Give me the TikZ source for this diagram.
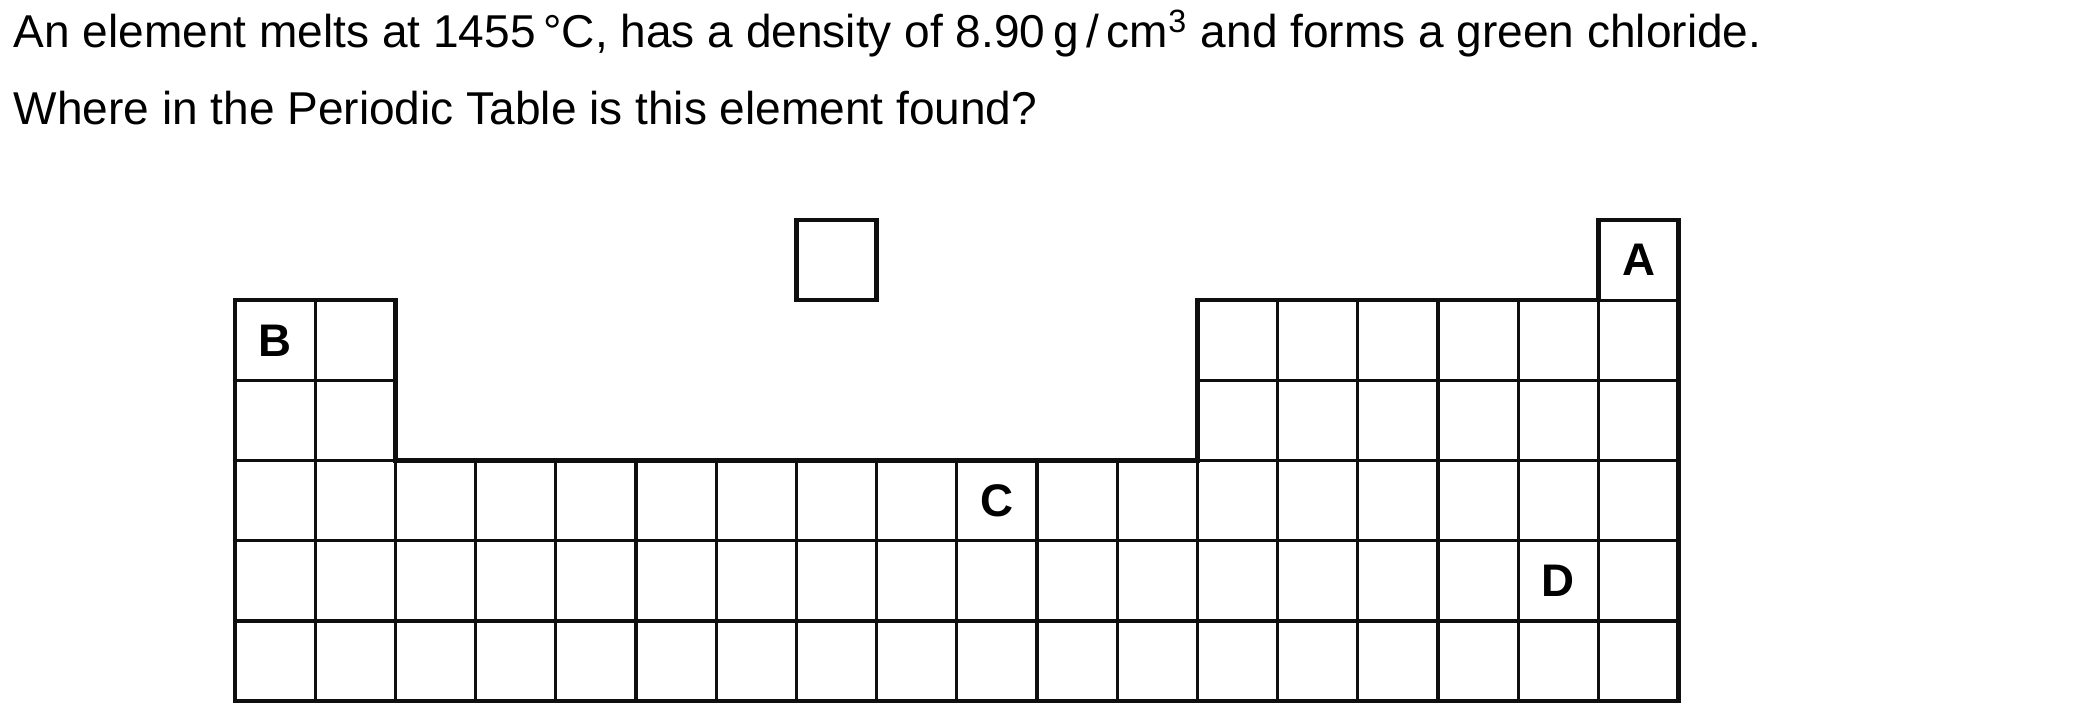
\documentclass[tikz,border=0pt]{standalone}
\usepackage{xcolor}
\usepackage{fontspec}
\setmainfont{Liberation Sans}
\usepackage{tikz}
\definecolor{gridInk}{RGB}{15,15,15}

\begin{document}
\begin{tikzpicture}[x=1cm, y=1cm,
		every node/.style={font=\fontsize{13.1}{15}\selectfont},
		cell/.style={draw=gridInk, line width=0.9pt, minimum size=0.802cm, inner sep=0pt},
		letter/.style={font=\fontsize{13}{15}\selectfont\bfseries},
		rim/.style={draw=gridInk, line width=1.3pt, line join=miter}]
		\useasboundingbox (0,0) rectangle (21,-7.16);
		\node [anchor=base west, inner sep=0pt] (question) at (0.13,-0.48) {An element melts at 1455\,°C, has a density of 8.90\,g\,/\,cm\textsuperscript{3} and forms a green chloride.};
		\node [anchor=base west, inner sep=0pt] (ask) at (0.13,-1.25) {Where in the Periodic Table is this element found?};
		\begin{scope}[shift={(2.35,-2.20)}, x=0.802cm, y=-0.802cm]
			\foreach \c in {7,17}
				\node [cell] (cell-0-\c) at (\c+0.5,0.5) {};
			\foreach \r in {1,2}
				\foreach \c in {0,1,12,13,...,17}
					\node [cell] (cell-\r-\c) at (\c+0.5,\r+0.5) {};
			\foreach \r in {3,...,5}
				\foreach \c in {0,...,17}
					\node [cell] (cell-\r-\c) at (\c+0.5,\r+0.5) {};
			\draw [rim] (0,1) -- (2,1) -- (2,3) -- (12,3) -- (12,1) -- (17,1) -- (17,0) -- (18,0) -- (18,6) -- (0,6) -- cycle;
			\draw [rim] (7,0) rectangle (8,1);
			\node [letter] (labelA) at (cell-0-17) {A};
			\node [letter] (labelB) at (cell-1-0) {B};
			\node [letter] (labelC) at (cell-3-9) {C};
			\node [letter] (labelD) at (cell-4-16) {D};
		\end{scope}
\end{tikzpicture}
\end{document}
